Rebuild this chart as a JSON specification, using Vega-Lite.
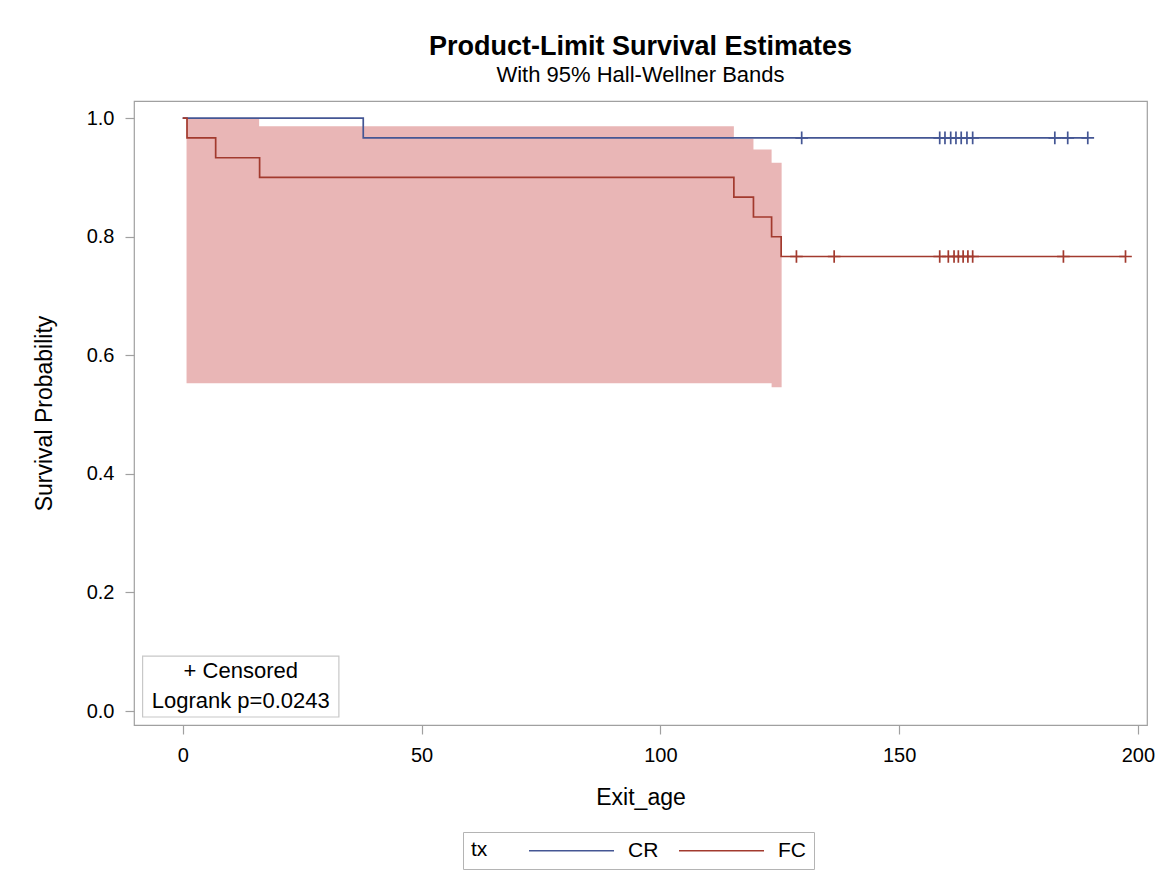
{
  "$schema": "https://vega.github.io/schema/vega-lite/v6.json",
  "width": 1013,
  "height": 624,
  "autosize": {"type": "none"},
  "padding": {"left": 134, "top": 101, "right": 20, "bottom": 154},
  "background": "white",
  "title": {
    "text": "Product-Limit Survival Estimates",
    "subtitle": "With 95% Hall-Wellner Bands",
    "anchor": "middle",
    "font": "Liberation Sans",
    "subtitleFont": "Liberation Sans",
    "fontSize": 27,
    "fontWeight": "bold",
    "subtitleFontSize": 22,
    "subtitlePadding": 4,
    "color": "black",
    "subtitleColor": "black",
    "offset": 14
  },
  "datasets": {
    "band": [
      {"t": 0.8, "lower": 0.553, "upper": 1.0},
      {"t": 16.0, "lower": 0.553, "upper": 0.9865},
      {"t": 115.4, "lower": 0.553, "upper": 0.9655},
      {"t": 119.5, "lower": 0.553, "upper": 0.947},
      {"t": 123.3, "lower": 0.546, "upper": 0.925},
      {"t": 125.4, "lower": 0.546, "upper": 0.925}
    ],
    "curves": [
      {"tx": "CR", "t": 0, "s": 1.0},
      {"tx": "CR", "t": 37.8, "s": 0.9667},
      {"tx": "CR", "t": 189.5, "s": 0.9667},
      {"tx": "FC", "t": 0, "s": 1.0},
      {"tx": "FC", "t": 0.9, "s": 0.9667},
      {"tx": "FC", "t": 6.9, "s": 0.9333},
      {"tx": "FC", "t": 16.1, "s": 0.9},
      {"tx": "FC", "t": 115.4, "s": 0.8667},
      {"tx": "FC", "t": 119.5, "s": 0.8333},
      {"tx": "FC", "t": 123.3, "s": 0.8},
      {"tx": "FC", "t": 125.3, "s": 0.7667},
      {"tx": "FC", "t": 197.4, "s": 0.7667}
    ],
    "censored": [
      {"tx": "CR", "t": 129.6, "s": 0.9667},
      {"tx": "CR", "t": 158.5, "s": 0.9667},
      {"tx": "CR", "t": 159.6, "s": 0.9667},
      {"tx": "CR", "t": 160.8, "s": 0.9667},
      {"tx": "CR", "t": 161.9, "s": 0.9667},
      {"tx": "CR", "t": 163.0, "s": 0.9667},
      {"tx": "CR", "t": 164.2, "s": 0.9667},
      {"tx": "CR", "t": 165.4, "s": 0.9667},
      {"tx": "CR", "t": 182.6, "s": 0.9667},
      {"tx": "CR", "t": 185.3, "s": 0.9667},
      {"tx": "CR", "t": 189.5, "s": 0.9667},
      {"tx": "FC", "t": 128.5, "s": 0.7667},
      {"tx": "FC", "t": 136.4, "s": 0.7667},
      {"tx": "FC", "t": 158.5, "s": 0.7667},
      {"tx": "FC", "t": 160.3, "s": 0.7667},
      {"tx": "FC", "t": 161.5, "s": 0.7667},
      {"tx": "FC", "t": 162.4, "s": 0.7667},
      {"tx": "FC", "t": 163.4, "s": 0.7667},
      {"tx": "FC", "t": 164.4, "s": 0.7667},
      {"tx": "FC", "t": 165.4, "s": 0.7667},
      {"tx": "FC", "t": 184.4, "s": 0.7667},
      {"tx": "FC", "t": 197.4, "s": 0.7667}
    ],
    "notes": [
      {"line": "+ Censored", "order": 1},
      {"line": "Logrank p=0.0243", "order": 2}
    ]
  },
  "layer": [
    {
      "data": {"name": "band"},
      "mark": {"type": "area", "interpolate": "step-after", "fill": "#E9B6B6", "opacity": 1},
      "encoding": {
        "x": {"field": "t", "type": "quantitative", "scale": {"domain": [-10.2, 201.9], "nice": false, "zero": false},
          "axis": {"values": [0, 50, 100, 150, 200], "title": "Exit_age"}},
        "y": {"field": "lower", "type": "quantitative", "scale": {"domain": [-0.0236, 1.029], "nice": false, "zero": false},
          "axis": {"values": [0, 0.2, 0.4, 0.6, 0.8, 1.0], "format": ".1f", "title": "Survival Probability"}},
        "y2": {"field": "upper"}
      }
    },
    {
      "data": {"name": "curves"},
      "mark": {"type": "line", "interpolate": "step-after", "strokeWidth": 1.7},
      "encoding": {
        "x": {"field": "t", "type": "quantitative"},
        "y": {"field": "s", "type": "quantitative"},
        "color": {"field": "tx", "type": "nominal",
          "scale": {"domain": ["CR", "FC"], "range": ["#445694", "#A23A2E"]},
          "legend": {"title": "tx", "symbolType": "M-5,0L5,0", "symbolSize": 289}}
      }
    },
    {
      "data": {"name": "censored"},
      "mark": {"type": "point", "shape": "M-1,0L1,0M0,-1L0,1", "filled": false, "size": 160, "strokeWidth": 1.7, "opacity": 1},
      "encoding": {
        "x": {"field": "t", "type": "quantitative"},
        "y": {"field": "s", "type": "quantitative"},
        "stroke": {"field": "tx", "type": "nominal",
          "scale": {"domain": ["CR", "FC"], "range": ["#445694", "#A23A2E"]},
          "legend": null}
      }
    },
    {
      "data": {"values": [{"box": "inset"}]},
      "mark": {"type": "rect", "fill": "white", "stroke": "#c8c8c8", "strokeWidth": 1.2},
      "encoding": {
        "x": {"datum": -8.4, "type": "quantitative"},
        "x2": {"datum": 32.7},
        "y": {"datum": 0.0927, "type": "quantitative"},
        "y2": {"datum": -0.0101}
      }
    },
    {
      "data": {"name": "notes"},
      "transform": [{"filter": "datum.order == 1"}],
      "mark": {"type": "text", "font": "Liberation Sans", "fontSize": 22, "color": "black", "align": "center", "baseline": "middle"},
      "encoding": {
        "x": {"datum": 12.15, "type": "quantitative"},
        "y": {"datum": 0.0675, "type": "quantitative"},
        "text": {"field": "line"}
      }
    },
    {
      "data": {"name": "notes"},
      "transform": [{"filter": "datum.order == 2"}],
      "mark": {"type": "text", "font": "Liberation Sans", "fontSize": 22, "color": "black", "align": "center", "baseline": "middle"},
      "encoding": {
        "x": {"datum": 12.15, "type": "quantitative"},
        "y": {"datum": 0.0169, "type": "quantitative"},
        "text": {"field": "line"}
      }
    }
  ],
  "config": {
    "font": "Liberation Sans",
    "view": {"stroke": "#a0a0a0", "strokeWidth": 1.2},
    "axis": {
      "domain": false,
      "grid": false,
      "tickColor": "#a0a0a0",
      "tickSize": 9,
      "tickWidth": 1.2,
      "labelFont": "Liberation Sans",
      "titleFont": "Liberation Sans",
      "labelFontSize": 20,
      "titleFontSize": 23,
      "titleFontWeight": "normal",
      "labelColor": "black",
      "titleColor": "black",
      "labelPadding": 11
    },
    "axisX": {"titlePadding": 21},
    "axisY": {"titlePadding": 30},
    "legend": {
      "orient": "none",
      "legendX": 329,
      "legendY": 731,
      "direction": "horizontal",
      "titleOrient": "left",
      "titleBaseline": "middle",
      "strokeColor": "#b4b4b4",
      "padding": 8,
      "symbolStrokeWidth": 1.6,
      "labelFont": "Liberation Sans",
      "titleFont": "Liberation Sans",
      "labelFontSize": 21,
      "titleFontSize": 21,
      "titleFontWeight": "normal",
      "titleColor": "black",
      "labelColor": "black",
      "titlePadding": 73,
      "columnPadding": 16,
      "labelOffset": 46
    }
  }
}
